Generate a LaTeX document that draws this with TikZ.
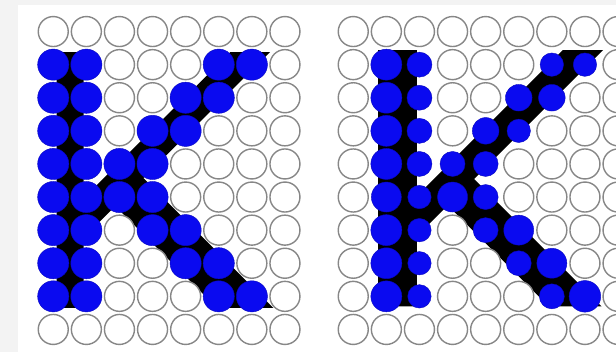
\documentclass[tikz,border=0pt]{standalone}
\definecolor{framegray}{RGB}{243,243,243}
\definecolor{ringgray}{RGB}{135,135,135}
\definecolor{dotblue}{RGB}{10,10,240}
\tikzset{
  emptydot/.style={draw=ringgray, line width=1.4pt, fill=white},
  fulldot/.style={fill=dotblue, draw=dotblue!80!black, line width=0.4pt},
  glyph/.style={fill=black},
  gridunits/.style={x=33.1pt, y=-33.1pt}
}
\begin{document}
\begin{tikzpicture}[x=1pt,y=-1pt]
\useasboundingbox (0,0) rectangle (616,352);
\clip (0,0) rectangle (616,352);
\fill[framegray] (0,0) rectangle (616,352);
\fill[white] (18,5) rectangle (616,352);

% ---------- left grid (binary sampling) ----------
\begin{scope}[xshift=36.7pt, yshift=-15pt, gridunits]
  \fill[glyph] (0.6,1.12) -- (1.42,1.12) -- (1.42,5.53) -- (5.85,1.12) -- (7.05,1.12)
      -- (3.225,4.925) -- (7.15,8.85) -- (5.45,8.85) -- (2.375,5.775)
      -- (1.42,6.73) -- (1.42,8.85) -- (0.6,8.85) -- cycle;
  \foreach \r/\cols in {1/{1,2,3,4,5,6,7,8}, 2/{3,4,5,8}, 3/{3,4,7,8}, 4/{3,6,7,8},
                        5/{5,6,7,8}, 6/{5,6,7,8}, 7/{3,6,7,8}, 8/{3,4,7,8},
                        9/{3,4,5,8}, 10/{1,2,3,4,5,6,7,8}}
    \foreach \c in \cols
      \draw[emptydot] (\c-0.5,\r-0.5) circle[radius=15pt];
  \foreach \r/\cols in {2/{1,2,6,7}, 3/{1,2,5,6}, 4/{1,2,4,5}, 5/{1,2,3,4},
                        6/{1,2,3,4}, 7/{1,2,4,5}, 8/{1,2,5,6}, 9/{1,2,6,7}}
    \foreach \c in \cols
      \filldraw[fulldot] (\c-0.5,\r-0.5) circle[radius=15.6pt];
\end{scope}

% ---------- right grid (coverage-weighted sampling) ----------
\begin{scope}[xshift=336.7pt, yshift=-15pt, gridunits]
  \fill[glyph] (1.25,1.06) -- (2.42,1.06) -- (2.42,5.47) -- (6.83,1.06) -- (8.05,1.06)
      -- (4.155,4.955) -- (8.0,8.8) -- (6.4,8.8) -- (3.355,5.755)
      -- (2.42,6.69) -- (2.42,8.8) -- (1.25,8.8) -- cycle;
  \foreach \r/\cols in {1/{1,2,3,4,5,6,7,8,9}, 2/{1,4,5,6,9}, 3/{1,4,5,8,9}, 4/{1,4,7,8,9},
                        5/{1,6,7,8,9}, 6/{1,6,7,8,9}, 7/{1,4,7,8,9}, 8/{1,4,5,8,9},
                        9/{1,4,5,6,9}, 10/{1,2,3,4,5,6,7,8,9}}
    \foreach \c in \cols
      \draw[emptydot] (\c-0.5,\r-0.5) circle[radius=15pt];
  \foreach \c/\r/\rad in {
      2/2/15.5, 3/2/12.5, 7/2/11.7, 8/2/11.7,
      2/3/15.5, 3/3/12.5, 6/3/13.3, 7/3/13.3,
      2/4/15.5, 3/4/12.5, 5/4/13.3, 6/4/11.7,
      2/5/15.5, 3/5/12.5, 4/5/12.5, 5/5/12.5,
      2/6/15.0, 3/6/11.7, 4/6/15.0, 5/6/12.5,
      2/7/15.5, 3/7/11.7, 5/7/12.5, 6/7/15.0,
      2/8/15.5, 3/8/11.7, 6/8/12.5, 7/8/15.0,
      2/9/15.5, 3/9/11.7, 7/9/12.5, 8/9/15.8}
    \filldraw[fulldot] (\c-0.5,\r-0.5) circle[radius=\rad pt];
\end{scope}
\end{tikzpicture}
\end{document}
